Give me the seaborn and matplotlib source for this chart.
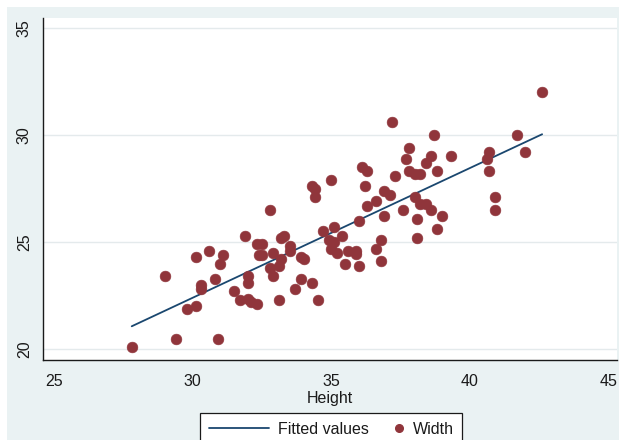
import numpy as np
import pandas as pd
import matplotlib
matplotlib.use("Agg")
import matplotlib.pyplot as plt
import seaborn as sns
from matplotlib.lines import Line2D
from matplotlib.patches import Rectangle
from matplotlib.legend_handler import HandlerLine2D

# Observations: height and width of each specimen
height = [
    27.8, 29.4, 30.9, 29.0, 29.8, 30.1, 30.3, 30.3, 30.1, 30.6,
    31.1, 31.0, 30.8, 31.9, 32.8, 32.3, 32.5, 32.4, 32.5, 32.9,
    32.0, 32.0, 32.8, 32.9, 31.5, 31.7, 32.0, 32.1, 32.3, 33.1,
    33.2, 33.3, 33.5, 33.5, 33.2, 33.1, 33.9, 34.0, 33.9, 34.3,
    33.7, 34.5, 34.3, 34.4, 34.4, 35.0, 34.7, 35.1, 35.4, 34.9,
    35.1, 35.0, 35.2, 35.6, 35.9, 35.9, 35.5, 36.0, 36.6, 36.8,
    36.8, 36.0, 36.3, 36.6, 36.2, 36.1, 36.3, 36.9, 37.1, 36.9,
    37.3, 37.2, 37.6, 37.7, 37.8, 37.8, 38.0, 38.2, 38.0, 38.2,
    38.4, 38.6, 38.1, 38.1, 38.6, 38.4, 38.8, 38.7, 39.0, 38.8,
    39.3, 40.7, 40.6, 40.7, 40.9, 40.9, 41.7, 42.0, 42.6,
]
width = [
    20.1, 20.5, 20.5, 23.4, 21.9, 22.0, 23.0, 22.8, 24.3, 24.6,
    24.4, 24.0, 23.3, 25.3, 26.5, 24.9, 24.9, 24.4, 24.4, 24.5,
    23.4, 23.1, 23.8, 23.4, 22.7, 22.3, 22.35, 22.2, 22.1, 22.3,
    25.2, 25.3, 24.8, 24.6, 24.2, 23.9, 24.3, 24.2, 23.3, 23.1,
    22.8, 22.3, 27.6, 27.5, 27.1, 27.9, 25.5, 25.7, 25.3, 25.1,
    25.0, 24.7, 24.5, 24.6, 24.6, 24.45, 24.0, 23.9, 24.7, 25.1,
    24.1, 26.0, 26.7, 26.9, 27.6, 28.5, 28.3, 27.4, 27.2, 26.2,
    28.1, 30.6, 26.5, 28.9, 29.4, 28.3, 28.2, 28.2, 27.1, 26.8,
    26.8, 26.5, 26.1, 25.2, 29.0, 28.7, 28.3, 30.0, 26.2, 25.6,
    29.0, 29.2, 28.9, 28.3, 27.1, 26.5, 30.0, 29.2, 32.0,
]

x_ticks = [25, 30, 35, 40, 45]
y_ticks = [20, 25, 30, 35]
x_label = "Height"
legend_labels = ["Fitted values", "Width"]

BG = "#eaf2f3"
NAVY = "#1a476f"
MAROON = "#90353b"
GRID = "#e4eaec"
INK = "#1a1a1a"
FS = 11.5

sns.set_theme(style="white")
plt.rcParams["font.family"] = ["Liberation Sans", "DejaVu Sans"]

W, H = 622, 440
fig = plt.figure(figsize=(W / 100, H / 100), dpi=100, facecolor="white")

# Tinted graph region inside a thin white margin, kept behind the axes
region = Rectangle((7 / W, 0), (619 - 7) / W, (H - 7) / H,
                   transform=fig.transFigure, facecolor=BG,
                   edgecolor="none", zorder=-10)
fig.add_artist(region)

left, right, top, bottom = 43, 617, 18, 360
ax = fig.add_axes([left / W, 1 - bottom / H, (right - left) / W, (bottom - top) / H])
ax.set_zorder(1)
ax.set_facecolor("white")

df = pd.DataFrame({"Height": height, "Width": width})

# Least-squares line over the observed range of Height
slope, intercept = np.polyfit(df["Height"], df["Width"], 1)
xs = np.array([df["Height"].min(), df["Height"].max()])
fit = pd.DataFrame({"Height": xs, "Fitted": intercept + slope * xs})

sns.lineplot(data=fit, x="Height", y="Fitted", color=NAVY, linewidth=1.3,
             ax=ax, zorder=2)
sns.scatterplot(data=df, x="Height", y="Width", color=MAROON, s=60,
                edgecolor=MAROON, linewidth=0.4, ax=ax, zorder=3)

ax.set_xlim(24.60, 45.30)
ax.set_ylim(19.5, 35.46)
ax.set_xticks(x_ticks)
ax.set_xticklabels([str(t) for t in x_ticks], fontsize=FS)
ax.set_yticks(y_ticks)
ax.set_yticklabels([str(t) for t in y_ticks], fontsize=FS, rotation=90,
                   va="center")
ax.yaxis.grid(True, color=GRID, linewidth=1.0, zorder=0)
ax.xaxis.grid(False)
ax.set_axisbelow(True)
ax.tick_params(axis="both", direction="out", length=5, width=1.0,
               color=INK, labelcolor=INK, pad=3)
ax.tick_params(axis="x", pad=5)
for side in ("top", "right"):
    ax.spines[side].set_visible(False)
for side in ("left", "bottom"):
    ax.spines[side].set_color(INK)
    ax.spines[side].set_linewidth(1.0)
ax.set_xlabel(x_label, fontsize=FS, labelpad=1.5, color=INK)
ax.set_ylabel("")


class EndMarkerHandler(HandlerLine2D):
    """Legend handler that puts the marker near the right end of its box."""

    def create_artists(self, legend, orig_handle, xdescent, ydescent,
                       width, height, fontsize, trans):
        arts = super().create_artists(legend, orig_handle, xdescent, ydescent,
                                      width, height, fontsize, trans)
        for a in arts:
            n = len(a.get_xdata())
            a.set_xdata(np.full(n, width - xdescent - 0.27 * fontsize))
        return arts


line_handle = Line2D([], [], color=NAVY, linewidth=1.3)
dot_handle = Line2D([], [], linestyle="none", marker="o", color=MAROON,
                    markersize=5.5)
leg = fig.legend([line_handle, dot_handle], legend_labels,
                 loc="upper left", bbox_to_anchor=(200 / W, 1 - 413 / H),
                 bbox_transform=fig.transFigure, borderaxespad=0,
                 ncol=2, fontsize=FS, handlelength=3.76, handletextpad=0.6,
                 columnspacing=-1.65, borderpad=0.55, frameon=True,
                 fancybox=False, framealpha=1,
                 handler_map={dot_handle: EndMarkerHandler()})
leg.set_zorder(5)
leg.get_frame().set_edgecolor(INK)
leg.get_frame().set_linewidth(0.9)
leg.get_frame().set_facecolor("white")
for t in leg.get_texts():
    t.set_color(INK)

fig.savefig("out.png", dpi=100, facecolor="white")
